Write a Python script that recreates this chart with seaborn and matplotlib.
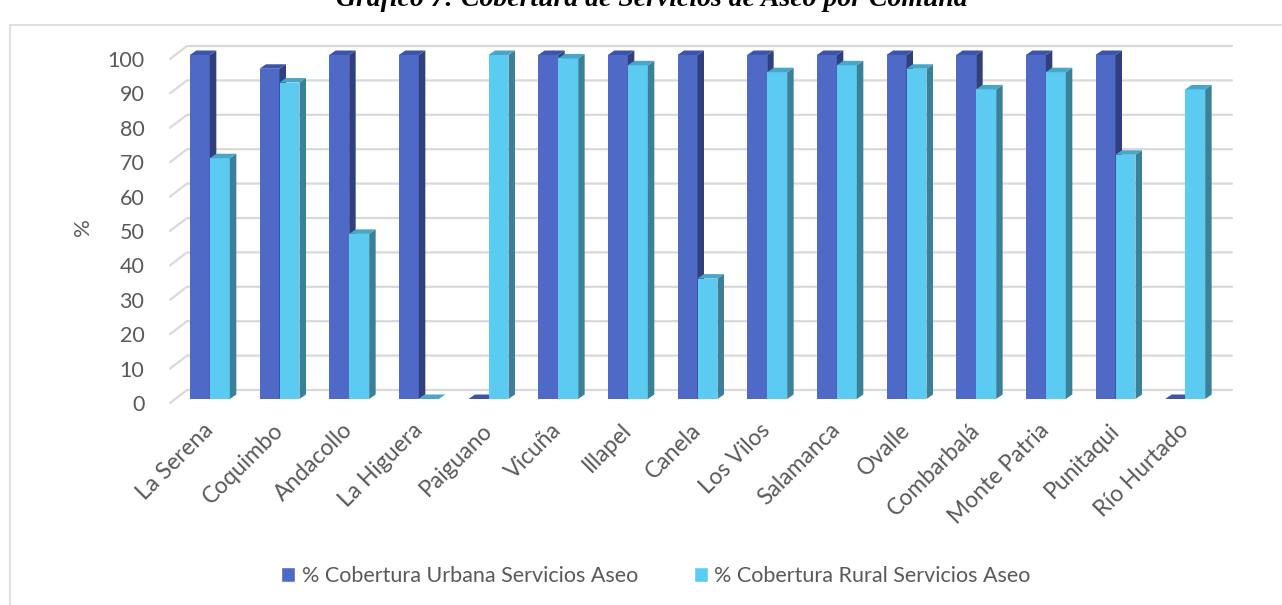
import matplotlib
matplotlib.use("Agg")
import matplotlib.pyplot as plt
from matplotlib.patches import Polygon, Rectangle, Patch
from matplotlib.lines import Line2D
from matplotlib.transforms import ScaledTranslation
import seaborn as sns
import pandas as pd

comunas = ["La Serena", "Coquimbo", "Andacollo", "La Higuera", "Paiguano",
           "Vicuña", "Illapel", "Canela", "Los Vilos", "Salamanca", "Ovalle",
           "Combarbalá", "Monte Patria", "Punitaqui", "Río Hurtado"]
urbana = [100, 96, 100, 100, 0, 100, 100, 100, 100, 100, 100, 100, 100, 100, 0]
rural = [70, 92, 48, 0, 100, 99, 97, 35, 95, 97, 96, 90, 95, 71, 90]
series = ["% Cobertura Urbana Servicios Aseo", "% Cobertura Rural Servicios Aseo"]
y_ticks = list(range(0, 101, 10))

# front, side and top colours for each series
colores = {
    series[0]: ("#4F69C6", "#30407E", "#3D55A8"),
    series[1]: ("#5CCBF2", "#3A8098", "#4AA6C6"),
}

df = pd.DataFrame({"Comuna": comunas * 2,
                   "valor": urbana + rural,
                   "serie": [series[0]] * len(comunas) + [series[1]] * len(comunas)})

sns.set_theme(style="white")
plt.rcParams["font.family"] = ["Lato", "DejaVu Sans"]
gris = "#595959"

W, H = 1282, 605
fig = plt.figure(figsize=(W / 100, H / 100), dpi=100)
ax = fig.add_axes([175 / W, (H - 399) / H, (1220 - 175) / W, (399 - 55) / H])

sns.barplot(data=df, x="Comuna", y="valor", hue="serie", order=comunas, hue_order=series,
            palette=[colores[s][0] for s in series], width=0.574, saturation=1,
            edgecolor="none", ax=ax)
ax.set_xlim(-0.5, len(comunas) - 0.5)
ax.set_ylim(0, 100)
for s in ax.spines.values():
    s.set_visible(False)

fig.canvas.draw()

# 3D look: side and top faces, in pixels
dx, dy = 6.5, 4.5
for k, cont in enumerate(ax.containers):
    frente, lado, arriba = colores[series[k]]
    for bar in cont:
        bar.set_zorder(2 + k)
        x0, y0 = ax.transData.transform((bar.get_x(), 0))
        x1, y1 = ax.transData.transform((bar.get_x() + bar.get_width(), bar.get_height()))
        side = Polygon([(x1, y0), (x1 + dx, y0 + dy), (x1 + dx, y1 + dy), (x1, y1)],
                       closed=True, facecolor=lado, edgecolor="none", transform=None,
                       zorder=2 + k, clip_on=False)
        top = Polygon([(x0, y1), (x0 + dx, y1 + dy), (x1 + dx, y1 + dy), (x1, y1)],
                      closed=True, facecolor=arriba, edgecolor="none", transform=None,
                      zorder=2 + k, clip_on=False)
        ax.add_patch(side)
        ax.add_patch(top)

# back wall gridlines with the left diagonal
xl, _ = ax.transData.transform((-0.5, 0))
for v in y_ticks:
    _, yv = ax.transData.transform((0, v))
    ax.add_line(Line2D([xl - 5, xl + 12, 1232], [yv - 4, yv + 9, yv + 9], color="#D9D9D9",
                       lw=1.6, transform=None, zorder=0.5, clip_on=False))

ax.set_yticks(y_ticks)
ax.tick_params(axis="y", length=0, pad=22, labelsize=15.5, labelcolor=gris)
for lab in ax.get_yticklabels():
    lab.set_transform(lab.get_transform() + ScaledTranslation(0, -4 / 100, fig.dpi_scale_trans))
ax.set_ylabel("%", fontsize=16, color=gris, labelpad=10)

ax.set_xlabel("")
ax.tick_params(axis="x", length=0, pad=20, labelsize=16.5, labelcolor=gris)
for lab in ax.get_xticklabels():
    lab.set_rotation(45)
    lab.set_ha("right")
    lab.set_va("center")
    lab.set_rotation_mode("anchor")

handles = [Patch(facecolor=colores[s][0]) for s in series]
ax.legend(handles, series, loc="center", bbox_to_anchor=(656 / W, 29 / H),
          bbox_transform=fig.transFigure, ncol=2, frameon=False, fontsize=15.5,
          labelcolor=gris, handlelength=0.65, handleheight=0.65, handletextpad=0.3,
          columnspacing=2.6)

# chart frame
fig.add_artist(Rectangle((10 / W, -0.1), 1.2, (H - 25) / H + 0.1, transform=fig.transFigure,
                         facecolor="none", edgecolor="#D9D9D9", lw=1.2))

fig.text(652 / W, 1 - 6 / H, "Gráfico 7: Cobertura de Servicios de Aseo por Comuna",
         ha="center", va="baseline", fontsize=20, fontweight="bold", fontstyle="italic",
         family=["Liberation Serif", "DejaVu Serif"], color="#000000")

fig.savefig("out.png", dpi=100)
